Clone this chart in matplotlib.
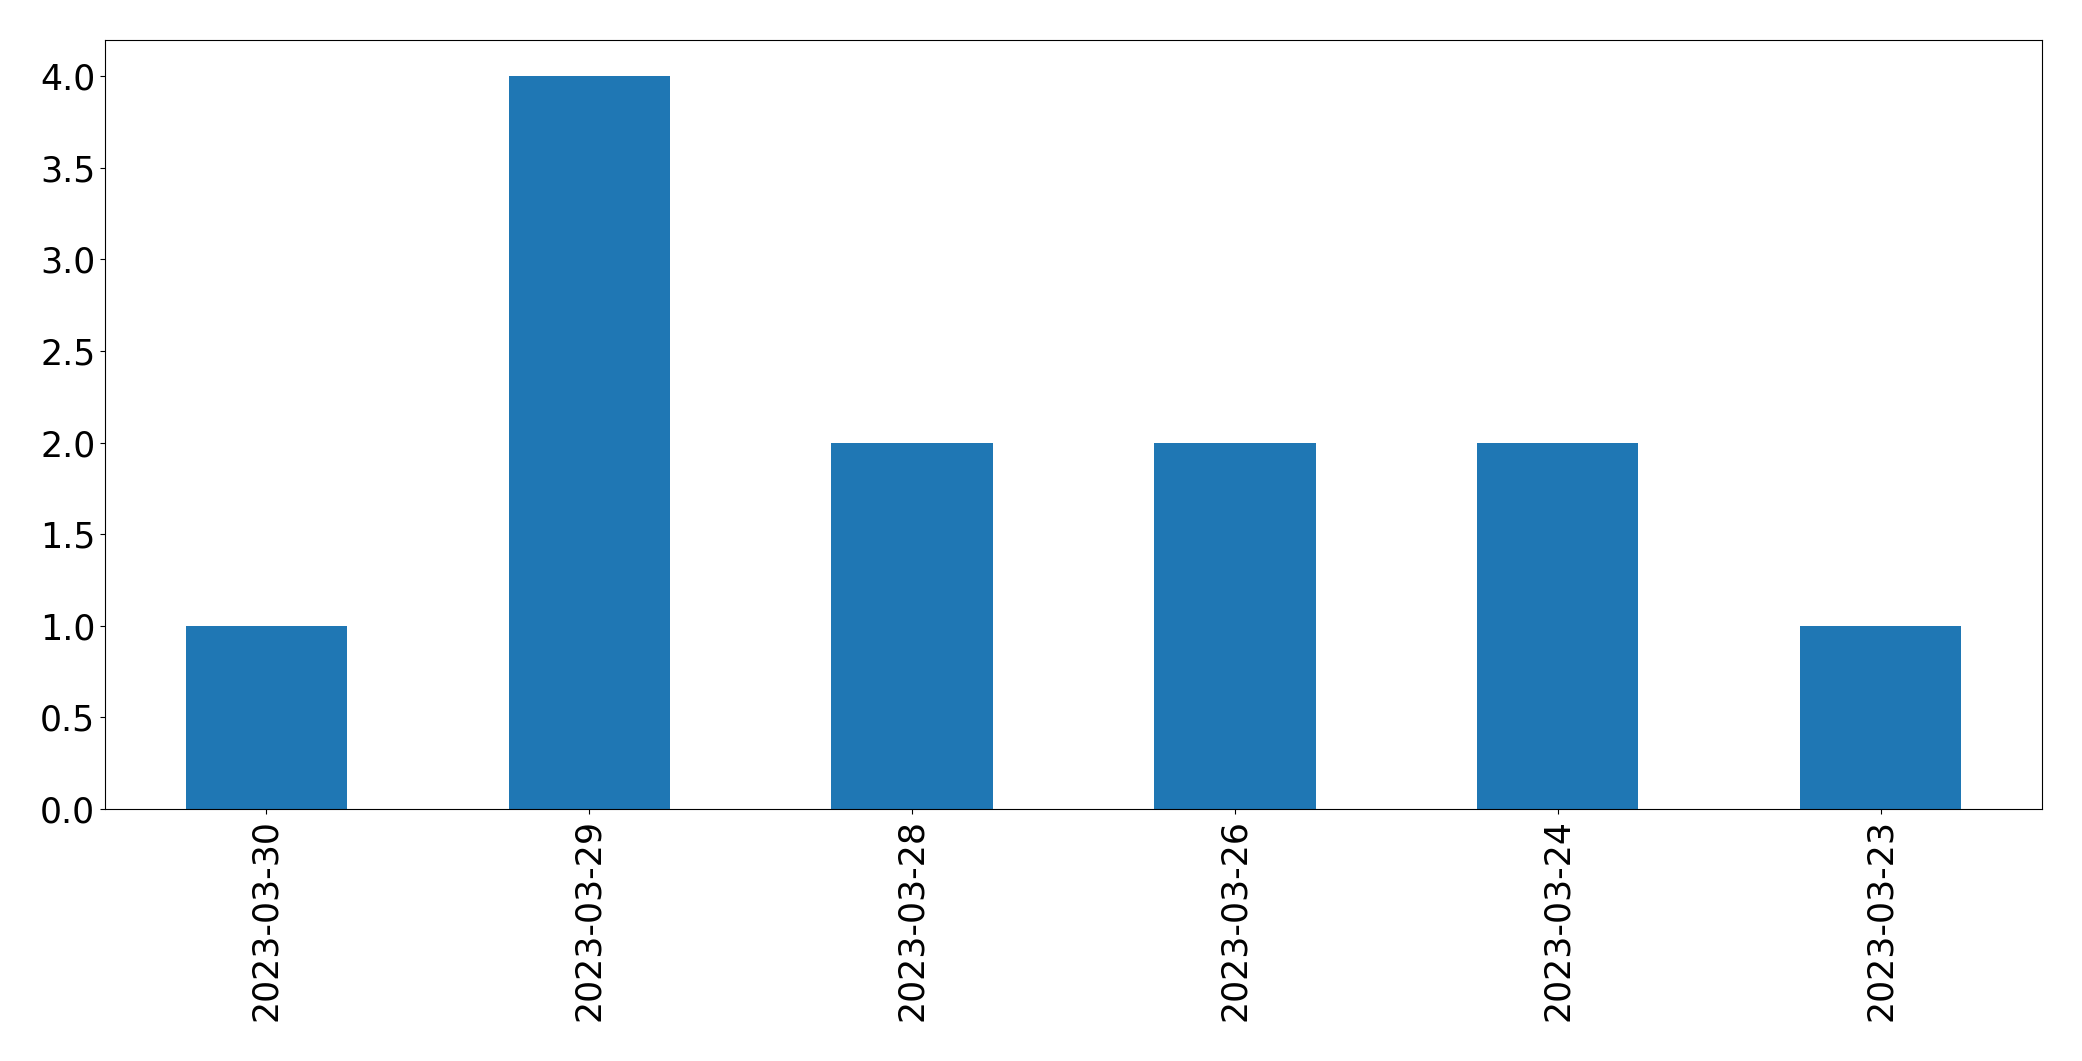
import matplotlib
matplotlib.use("Agg")
import matplotlib.pyplot as plt

dates = ["2023-03-30", "2023-03-29", "2023-03-28", "2023-03-26", "2023-03-24", "2023-03-23"]
counts = [1, 4, 2, 2, 2, 1]

fig = plt.figure(figsize=(20.82, 10.61), dpi=100)
ax = fig.add_axes([105/2082, 1-809/1061, (2042-105)/2082, (809-39.5)/1061])
x = list(range(len(dates)))
ax.bar(x, counts, width=0.5, color="#1f77b4")
ax.set_xlim(-0.5, len(dates) - 0.5)
ax.set_xticks(x)
ax.set_xticklabels(dates, rotation=90)
ax.set_ylim(0, 4.2)
ax.set_yticks([0, 0.5, 1, 1.5, 2, 2.5, 3, 3.5, 4])
ax.tick_params(labelsize=25)
fig.savefig("out.png", dpi=100)
